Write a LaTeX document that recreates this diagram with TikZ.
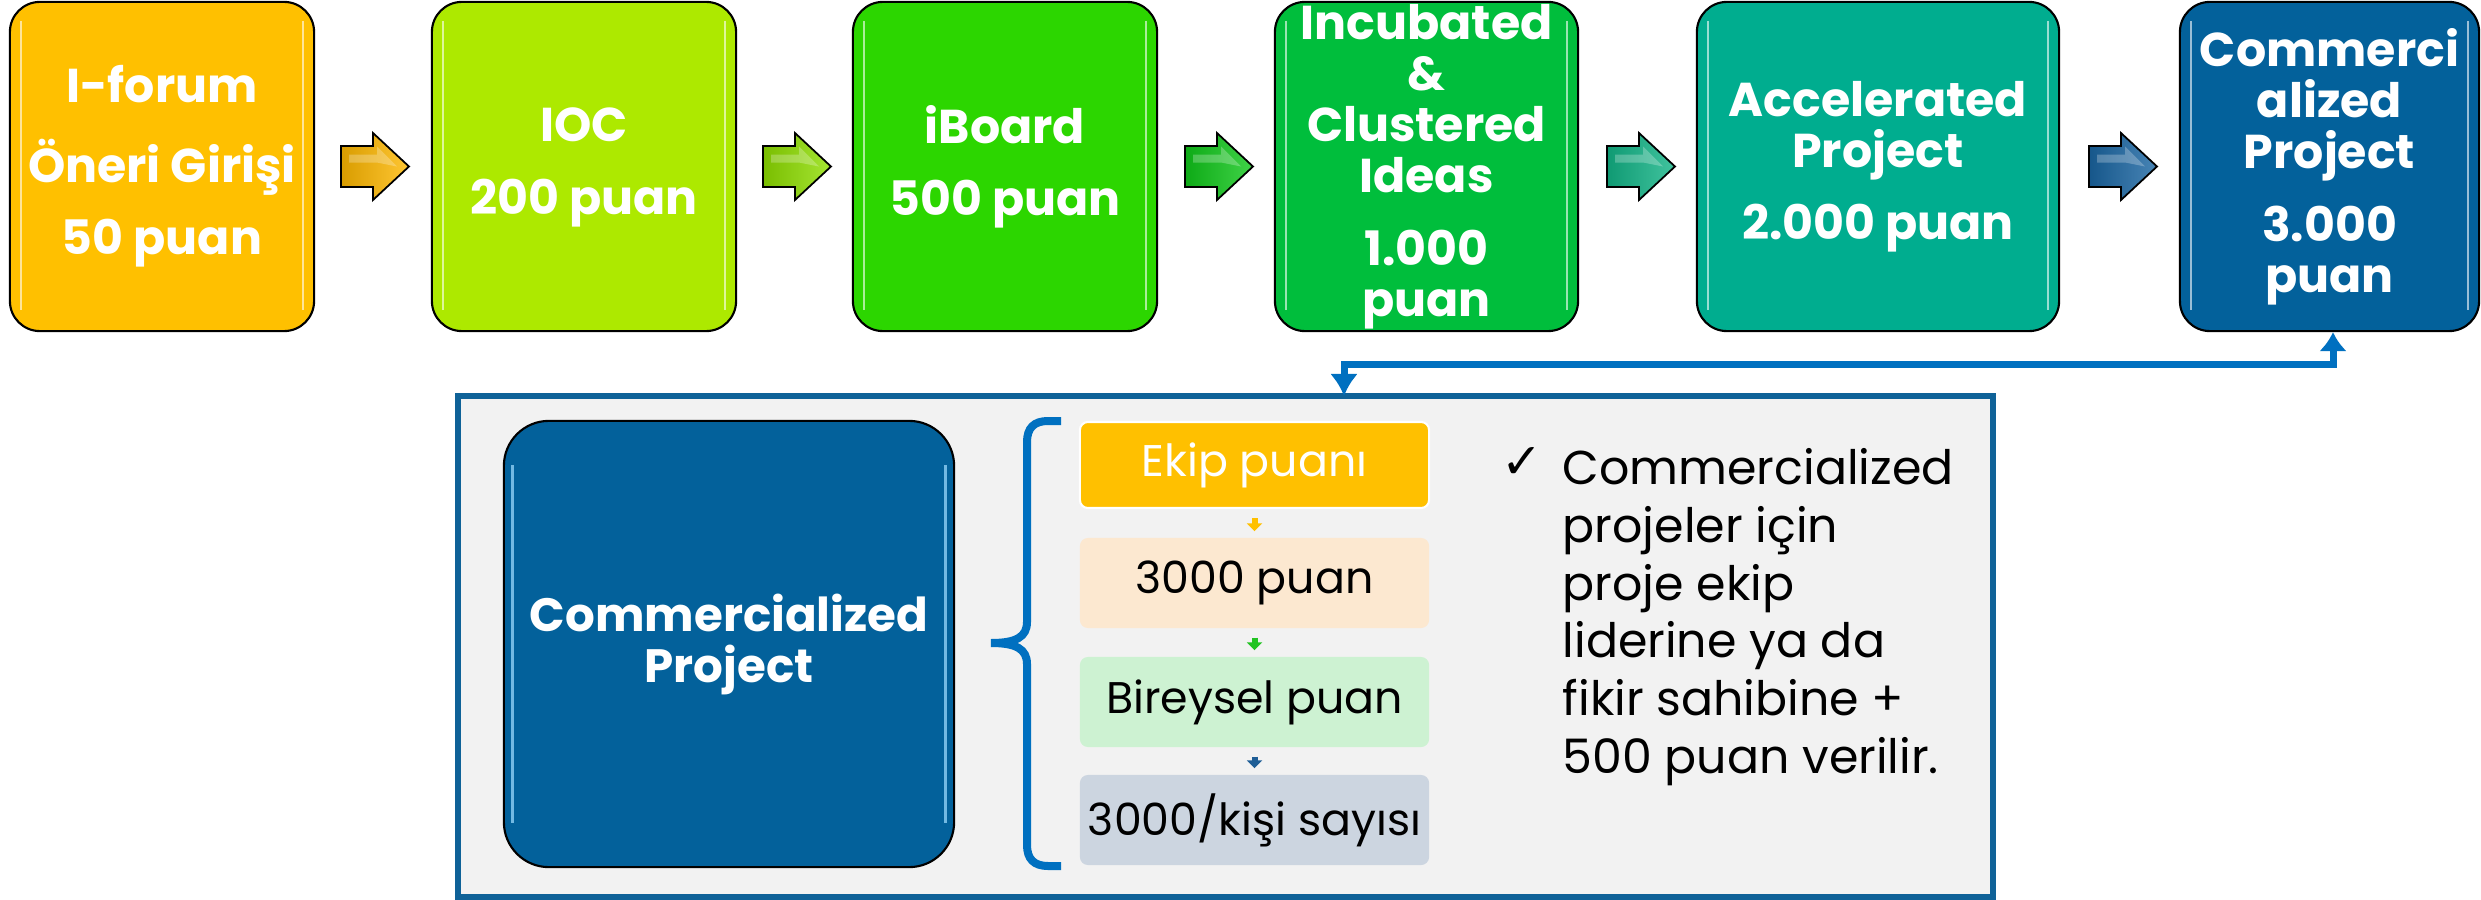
\documentclass[tikz,border=0pt]{standalone}
\usepackage{fontspec}
\setmainfont{Poppins}
\newfontfamily\djv{DejaVu Sans}
\usetikzlibrary{arrows.meta}

\definecolor{c1}{HTML}{FFC000}
\definecolor{c2}{HTML}{ADE900}
\definecolor{c3}{HTML}{2CD600}
\definecolor{c4}{HTML}{00BE3C}
\definecolor{c5}{HTML}{00AD8F}
\definecolor{c6}{HTML}{03619B}
\definecolor{ar1}{HTML}{FFB800}
\definecolor{ar2}{HTML}{8FDF00}
\definecolor{ar3}{HTML}{10C81A}
\definecolor{ar4}{HTML}{12B587}
\definecolor{ar5}{HTML}{1A66A3}
\definecolor{lnk}{HTML}{0070C0}
\definecolor{panelc}{HTML}{F2F2F2}
\definecolor{panelb}{HTML}{0F6298}
\definecolor{sb}{HTML}{FCE8D0}
\definecolor{sc}{HTML}{CDF2D2}
\definecolor{sd}{HTML}{CCD5E0}
\definecolor{sgreen}{HTML}{22C322}
\definecolor{sblue}{HTML}{1F5E96}
\definecolor{hlblue}{HTML}{8FD0F5}

\newcommand{\st}{\rule[-0.25em]{0pt}{1em}}

\tikzset{
  pics/barrow/.style={code={
    \draw[black, line width=0.5pt, left color=#1!85!black, right color=#1!80!white]
      (0,-20.5) -- (32,-20.5) -- (32,-33.5) -- (68,0) -- (32,33.5) -- (32,20.5) -- (0,20.5) -- cycle;
    \fill[white, opacity=0.25] (8,-12) -- (36,-12) -- (36,-20) -- (56,0) -- (36,-4) -- (8,-4) -- cycle;
  }},
}

\begin{document}
\begin{tikzpicture}[x=0.01cm,y=-0.01cm,
  stage/.style={draw=black, line width=0.6pt, rounded corners=0.3cm, minimum width=3.04cm,
    minimum height=3.29cm, inner sep=0pt, text=white, align=center,
    font=\fontsize{13.5}{14.5}\selectfont\bfseries},
  hl/.style={draw=white, draw opacity=0.6, line width=0.6pt},
  panel/.style={draw=panelb, fill=panelc, line width=1.7pt, minimum width=15.35cm,
    minimum height=5.01cm, inner sep=0pt},
  cpbox/.style={draw=black, line width=0.6pt, fill=c6, rounded corners=0.45cm,
    minimum width=4.5cm, minimum height=4.46cm, inner sep=0pt, text=white, align=center,
    font=\fontsize{13.3}{14.5}\selectfont\bfseries},
  sbox/.style={rounded corners=0.08cm, minimum width=3.49cm, minimum height=0.9cm,
    inner sep=0pt, font=\fontsize{12.6}{14.5}\selectfont},
  sarr/.style={line width=0.06cm, shorten <=0.09cm, shorten >=0.06cm,
    -{Triangle[length=0.08cm,width=0.15cm]}},
  link/.style={draw=lnk, line width=0.07cm,
    {Latex[length=0.19cm,width=0.28cm]}-{Latex[length=0.22cm,width=0.28cm]}},
  bultext/.style={align=left, inner sep=0pt, font=\fontsize{13.5}{16.4}\selectfont},
]
\useasboundingbox (0,0) rectangle (2481,900);

% top row of stages
\node[stage, fill=c1] (b1) at (162,166.5) {\st I-forum\\[6pt]\st Öneri Girişi\\[6pt]\st 50 puan};
\node[stage, fill=c2] (b2) at (584,166.5) {\st IOC\\[6pt]\st 200 puan};
\node[stage, fill=c3] (b3) at (1005,166.5) {\st iBoard\\[6pt]\st 500 puan};
\node[stage, fill=c4, minimum width=3.03cm] (b4) at (1426.5,166.5)
  {\st Incubated\\\st \&\\\st Clustered\\\st Ideas\\[6.3pt]\st 1.000\\\st puan};
\node[stage, fill=c5, minimum width=3.62cm] (b5) at (1878,166.5)
  {\st Accelerated\\\st Project\\[5.7pt]\st 2.000 puan};
\node[stage, fill=c6, minimum width=2.99cm] (b6) at (2329.5,166.5)
  {\st Commerci\\\st alized\\\st Project\\[6.3pt]\st 3.000\\\st puan};

\foreach \n in {b1,b2,b3,b4,b5,b6}{
  \draw[hl] ([xshift=0.12cm,yshift=-0.2cm]\n.north west) -- ([xshift=0.12cm,yshift=0.22cm]\n.south west);
  \draw[hl] ([xshift=-0.12cm,yshift=-0.2cm]\n.north east) -- ([xshift=-0.12cm,yshift=0.22cm]\n.south east);
}

% block arrows between stages
\pic (a1) at (341,166.5) {barrow=ar1};
\pic (a2) at (763,166.5) {barrow=ar2};
\pic (a3) at (1185,166.5) {barrow=ar3};
\pic (a4) at (1607,166.5) {barrow=ar4};
\pic (a5) at (2089,166.5) {barrow=ar5};

% bottom panel
\node[panel] (panel) at (1225.5,646.5) {};
\coordinate (tgt) at (1344,396);
\draw[link] ([xshift=0.035cm]b6.south) -- ++(0,32) -| (tgt);

\node[cpbox] (cp) at (729,644) {\st Commercialized\\\st Project};
\draw[draw=hlblue, line width=0.8pt, draw opacity=0.8] ([xshift=0.1cm,yshift=-0.45cm]cp.north west) -- ([xshift=0.1cm,yshift=0.45cm]cp.south west);
\draw[draw=hlblue, line width=0.8pt, draw opacity=0.8] ([xshift=-0.1cm,yshift=-0.45cm]cp.north east) -- ([xshift=-0.1cm,yshift=0.45cm]cp.south east);

% brace
\draw[lnk, line width=0.08cm]
  (1061,421) -- (1048,421) .. controls (1034,421) and (1027,428) .. (1027,442)
  -- (1027,622) .. controls (1027,637) and (1016,643) .. (991,643)
  .. controls (1016,643) and (1027,649) .. (1027,664)
  -- (1027,845) .. controls (1027,859) and (1034,866) .. (1048,866) -- (1061,866);

% step boxes
\node[sbox, fill=c1, draw=white, line width=0.6pt, minimum height=0.86cm, text=white] (ka) at (1254.5,465) {\st Ekip puanı};
\node[sbox, fill=sb] (kb) at (1254.5,583) {\st 3000 puan};
\node[sbox, fill=sc] (kc) at (1254.5,702) {\st Bireysel puan};
\node[sbox, fill=sd] (kd) at (1254.5,820) {\st 3000/kişi sayısı};

\draw[sarr, c1] (ka) -- (kb);
\draw[sarr, sgreen] (kb) -- (kc);
\draw[sarr, sblue] (kc) -- (kd);

% bullet text
\node[inner sep=0pt, font=\fontsize{14}{16}\djv] (chk) at (1522,463) {✓};
\node[bultext, anchor=west] (bul) at (1562,617)
  {\st Commercialized\\\st projeler için\\\st proje ekip\\\st liderine ya da\\\st fikir sahibine +\\\st 500 puan verilir.};
\end{tikzpicture}
\end{document}
